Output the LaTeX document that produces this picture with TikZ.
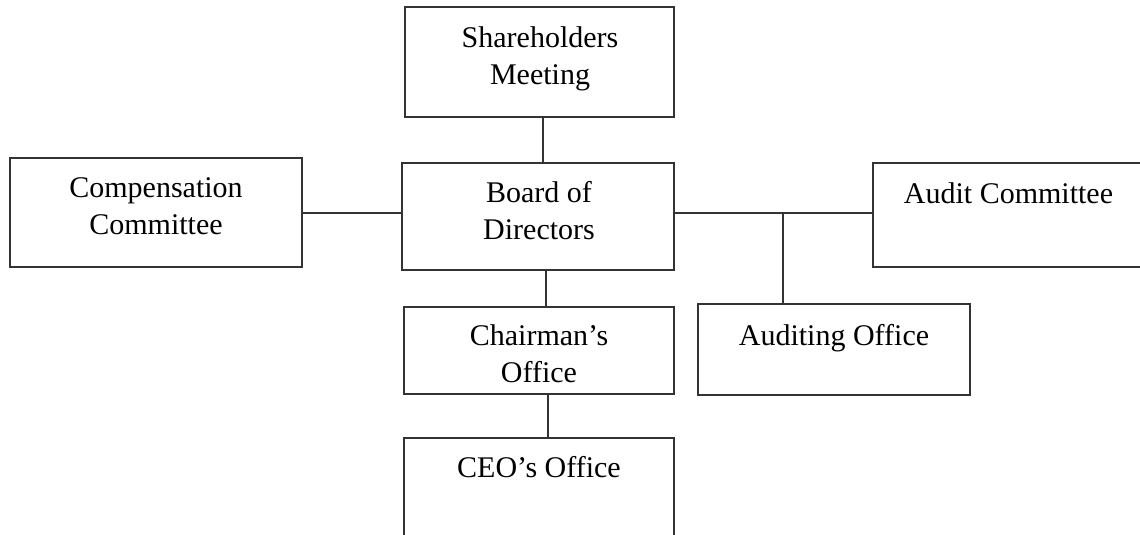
\documentclass[tikz,border=0pt]{standalone}
\usepackage{fontspec}
\setmainfont{Liberation Serif}
\usetikzlibrary{calc}
\begin{document}
\begin{tikzpicture}[x=1pt,y=-1pt,
  orgbox/.style={draw=black!80, line width=2pt, rectangle, inner sep=0pt},
  lbl/.style={anchor=north, inner sep=0pt, align=center, text=black,
              font={\fontsize{30pt}{37pt}\selectfont}},
  link/.style={draw=black!80, line width=2pt}]
  \useasboundingbox (0,0) rectangle (1140,535);
  \clip (0,0) rectangle (1140,535);

  % boxes
  \node[orgbox, minimum width=269pt, minimum height=110pt] (sh)    at (539.5,62)   {};
  \node[orgbox, minimum width=292pt, minimum height=109pt] (comp)  at (156,212.5)  {};
  \node[orgbox, minimum width=272pt, minimum height=107pt] (bod)   at (538,216.5)  {};
  \node[orgbox, minimum width=287pt, minimum height=104pt] (audit) at (1016.5,215) {};
  \node[orgbox, minimum width=270pt, minimum height=87pt]  (chair) at (539,350.5)  {};
  \node[orgbox, minimum width=272pt, minimum height=91pt]  (aoff)  at (834,349.5)  {};
  \node[orgbox, minimum width=270pt, minimum height=122pt] (ceo)   at (539,499)    {};

  % labels
  \node[lbl] (tsh)    at (540,26.5)    {Shareholders\\Meeting};
  \node[lbl] (tcomp)  at (156,177.5)   {Compensation\\Committee};
  \node[lbl] (tbod)   at (539,181.5)   {Board of\\Directors};
  \node[lbl] (taudit) at (1008.5,182.5){Audit Committee};
  \node[lbl] (tchair) at (539,324.5)   {Chairman’s\\Office};
  \node[lbl] (taoff)  at (834,324.5)   {Auditing Office};
  \node[lbl] (tceo)   at (539,456.5)   {CEO’s Office};

  % connectors
  \coordinate (j) at (783,213);
  \draw[link] ([xshift=3.5pt]sh.south) -- ([xshift=3.5pt]sh.south |- bod.north);
  \draw[link] (comp.east) -- (comp.east -| bod.west);
  \draw[link] (bod.east |- j) -- (audit.west |- j);
  \draw[link] (j) -- (j |- aoff.north);
  \draw[link] ([xshift=8pt]bod.south) -- ([xshift=8pt]bod.south |- chair.north);
  \draw[link] ([xshift=9pt]chair.south) -- ([xshift=9pt]chair.south |- ceo.north);
\end{tikzpicture}
\end{document}
